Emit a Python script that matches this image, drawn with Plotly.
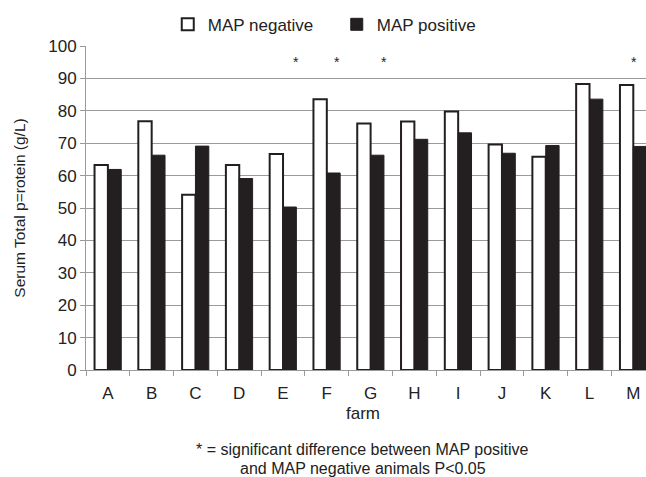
import plotly.graph_objects as go

farms = ["A", "B", "C", "D", "E", "F", "G", "H", "I", "J", "K", "L", "M"]
map_negative = [63.3, 76.8, 54.1, 63.3, 66.7, 83.6, 76.1, 76.7, 79.8, 69.6, 65.8, 88.3, 88.0]
map_positive = [61.9, 66.3, 69.1, 59.1, 50.3, 60.8, 66.3, 71.2, 73.2, 66.9, 69.3, 83.6, 69.0]
star_farms = ["E", "F", "G", "M"]
star_level = 95.2
y_ticks = [0, 10, 20, 30, 40, 50, 60, 70, 80, 90, 100]

INK = "#231f20"
GRID = "#9a9a9a"
FONT = "Liberation Sans, Arial, sans-serif"

fig = go.Figure()
fig.add_trace(go.Bar(x=farms, y=map_negative, name="MAP negative",
                     marker=dict(color="white", line=dict(color=INK, width=2))))
fig.add_trace(go.Bar(x=farms, y=map_positive, name="MAP positive",
                     marker=dict(color=INK, line=dict(color=INK, width=1))))

star_shift = {"E": 13, "F": 10, "G": 13, "M": 1}
for f in star_farms:
    fig.add_annotation(x=f, y=star_level, text="*", showarrow=False,
                       xshift=star_shift[f], font=dict(size=14, color=INK, family=FONT))

fig.add_annotation(xref="paper", yref="paper", x=0.494, y=-0.133, yanchor="middle",
                   text="farm", showarrow=False,
                   font=dict(size=17, color="#222", family=FONT))
fig.add_annotation(xref="paper", yref="paper", x=0.494, y=-0.244, yanchor="middle",
                   text="* = significant difference between MAP positive",
                   showarrow=False, font=dict(size=16, color="#222", family=FONT))
fig.add_annotation(xref="paper", yref="paper", x=0.494, y=-0.303, yanchor="middle",
                   text="and MAP negative animals P&lt;0.05",
                   showarrow=False, font=dict(size=16, color="#222", family=FONT))

fig.update_layout(
    width=646, height=477,
    margin=dict(l=86, r=0, t=46, b=107),
    paper_bgcolor="white", plot_bgcolor="white",
    font=dict(family=FONT, size=17, color="#222"),
    barmode="group", bargap=0.39, bargroupgap=0,
    showlegend=True,
    legend=dict(orientation="h", x=0.146, xanchor="left", y=1.01, yanchor="bottom",
                font=dict(size=17, color="#222"), itemwidth=30, traceorder="normal",
                entrywidth=124, entrywidthmode="pixels"),
    xaxis=dict(range=[-0.5, 12.29], showgrid=False, showline=True, linecolor=GRID,
               linewidth=1, ticks="outside", tickson="boundaries", ticklen=5,
               tickcolor=GRID, tickfont=dict(size=17), ticklabelstandoff=8,
               fixedrange=True),
    yaxis=dict(range=[0, 100], tickvals=y_ticks, showgrid=True, gridcolor=GRID,
               gridwidth=1, showline=True, linecolor=GRID, ticks="outside",
               ticklen=5, tickcolor=GRID, tickfont=dict(size=17), zeroline=False,
               title=dict(text="Serum Total p=rotein (g/L)", font=dict(size=15.5), standoff=18)),
)

fig.write_html("out.html")
